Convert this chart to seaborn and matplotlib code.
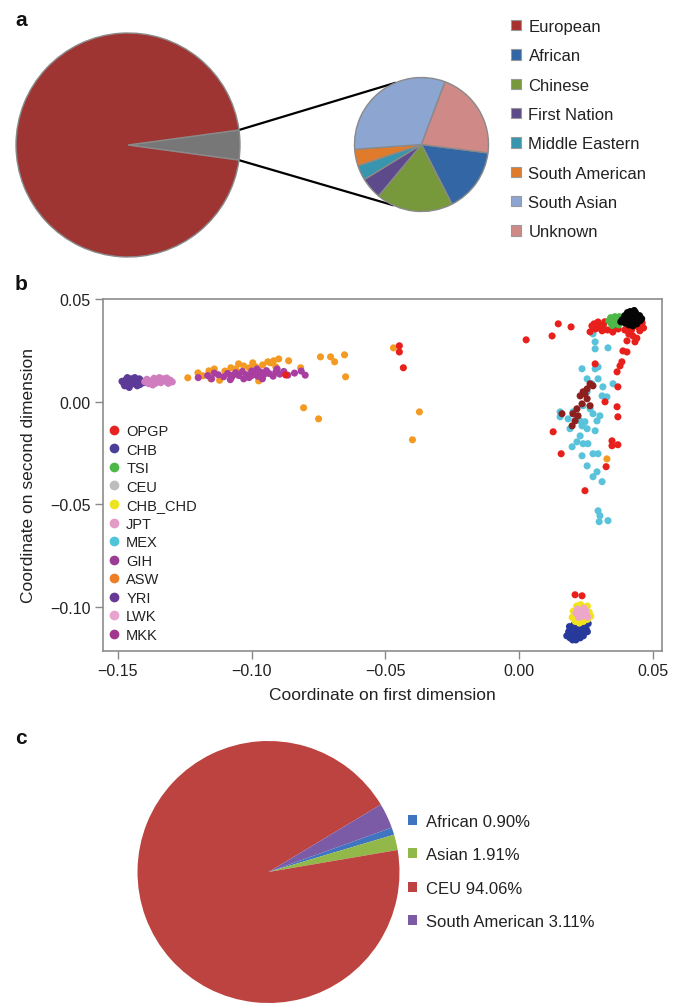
import numpy as np
import pandas as pd
import matplotlib
matplotlib.use("Agg")
import matplotlib.pyplot as plt
import seaborn as sns
from matplotlib.patches import Patch
from matplotlib.lines import Line2D

sns.set_theme(style="white")
plt.rcParams["font.family"] = ["Liberation Sans", "DejaVu Sans"]

# ---------------- Panel a data ----------------
a_main_labels = ["Other", "European"]
a_main_values = [4.3, 95.7]
a_sub_labels = ["African", "Chinese", "First Nation", "Middle Eastern",
                "South American", "South Asian", "Unknown"]
a_sub_values = [15.5, 18.6, 5.2, 3.6, 4.0, 31.9, 21.3]
a_legend_labels = ["European"] + a_sub_labels

# ---------------- Panel b data (MDS coordinates) ----------------
b_legend_order = ["OPGP", "CHB", "TSI", "CEU", "CHB_CHD", "JPT", "MEX",
                  "GIH", "ASW", "YRI", "LWK", "MKK"]

ASW_x = [-0.1239, -0.1201, -0.1160, -0.1078, -0.1030, -0.0996, -0.0959, -0.0918,
         -0.0899, -0.0862, -0.0817, -0.0743, -0.0705, -0.0690, -0.0653, -0.0649,
         -0.0806, -0.0750, -0.0974, -0.1153, -0.1183, -0.1049, -0.0929, -0.0910,
         -0.0470, -0.0373, -0.0399, 0.0328, -0.1140, -0.1100, -0.1060, -0.0985,
         -0.0940, -0.1120, -0.1010]
ASW_y = [0.0117, 0.0141, 0.0151, 0.0166, 0.0175, 0.0190, 0.0180, 0.0200,
         0.0209, 0.0200, 0.0166, 0.0219, 0.0219, 0.0195, 0.0229, 0.0122,
         -0.0029, -0.0083, 0.0102, 0.0112, 0.0127, 0.0185, 0.0190, 0.0170,
         0.0263, -0.0049, -0.0185, -0.0278, 0.0160, 0.0150, 0.0160, 0.0170,
         0.0195, 0.0105, 0.0165]

MKK_x = [-0.1200, -0.1165, -0.1150, -0.1125, -0.1105, -0.1090, -0.1075, -0.1060,
         -0.1048, -0.1035, -0.1020, -0.1010, -0.1000, -0.0990, -0.0978, -0.0968,
         -0.0955, -0.0945, -0.0935, -0.0920, -0.0910, -0.0895, -0.0880, -0.0865,
         -0.0840, -0.0815, -0.0800, -0.1140, -0.1080, -0.0960, -0.0905, -0.1030,
         -0.0980, -0.1070, -0.1000, -0.0950]
MKK_y = [0.0118, 0.0128, 0.0112, 0.0132, 0.0122, 0.0138, 0.0120, 0.0142,
         0.0128, 0.0148, 0.0132, 0.0118, 0.0150, 0.0136, 0.0125, 0.0146,
         0.0132, 0.0152, 0.0138, 0.0125, 0.0145, 0.0135, 0.0148, 0.0130,
         0.0140, 0.0150, 0.0130, 0.0140, 0.0108, 0.0112, 0.0160, 0.0112,
         0.0160, 0.0130, 0.0128, 0.0140]

YRI_x = [-0.1485, -0.1478, -0.1470, -0.1462, -0.1455, -0.1450, -0.1445, -0.1440,
         -0.1432, -0.1425, -0.1418, -0.1412, -0.1405, -0.1465, -0.1437, -0.1475,
         -0.1428, -0.1458, -0.1420]
YRI_y = [0.0100, 0.0088, 0.0108, 0.0095, 0.0082, 0.0112, 0.0100, 0.0088,
         0.0105, 0.0095, 0.0084, 0.0102, 0.0093, 0.0118, 0.0118, 0.0078,
         0.0078, 0.0070, 0.0112]

LWK_x = [-0.1400, -0.1392, -0.1385, -0.1375, -0.1365, -0.1360, -0.1350, -0.1340,
         -0.1332, -0.1322, -0.1312, -0.1305, -0.1297, -0.1370, -0.1345, -0.1318]
LWK_y = [0.0098, 0.0110, 0.0088, 0.0102, 0.0115, 0.0090, 0.0104, 0.0093,
         0.0112, 0.0100, 0.0090, 0.0106, 0.0097, 0.0082, 0.0118, 0.0116]

MEX_x = [0.0276, 0.0284, 0.0332, 0.0284, 0.0235, 0.0284, 0.0295, 0.0254,
         0.0295, 0.0272, 0.0313, 0.0254, 0.0310, 0.0328, 0.0351, 0.0239,
         0.0265, 0.0276, 0.0302, 0.0291, 0.0246, 0.0235, 0.0254, 0.0284,
         0.0228, 0.0216, 0.0239, 0.0257, 0.0190, 0.0153, 0.0201, 0.0153,
         0.0183, 0.0216, 0.0228, 0.0198, 0.0235, 0.0254, 0.0276, 0.0295,
         0.0291, 0.0276, 0.0310, 0.0295, 0.0302, 0.0299, 0.0332]
MEX_y = [0.0331, 0.0292, 0.0263, 0.0258, 0.0161, 0.0161, 0.0170, 0.0112,
         0.0112, 0.0088, 0.0073, 0.0049, 0.0029, 0.0024, 0.0088, -0.0019,
         -0.0034, -0.0058, -0.0068, -0.0093, -0.0097, -0.0117, -0.0131, -0.0141,
         -0.0166, -0.0195, -0.0204, -0.0204, -0.0131, -0.0049, -0.0049, -0.0073,
         -0.0083, -0.0073, -0.0093, -0.0219, -0.0263, -0.0312, -0.0253, -0.0253,
         -0.0341, -0.0365, -0.0389, -0.0531, -0.0555, -0.0584, -0.0579]

GIH_x = [0.0276, 0.0228, 0.0254, 0.0235, 0.0216, 0.0201, 0.0220, 0.0209,
         0.0198, 0.0254, 0.0239, 0.0265, 0.0160, 0.0265, 0.0246]
GIH_y = [0.0078, 0.0029, 0.0015, -0.0010, -0.0034, -0.0058, -0.0068, -0.0093,
         -0.0117, 0.0063, 0.0049, -0.0019, -0.0058, 0.0088, 0.0039]

OPGP_x = [-0.0448, -0.0448, -0.0433, -0.0873,
          0.0146, 0.0194, 0.0026, 0.0123, 0.0272, 0.0295, 0.0265, 0.0310,
          0.0351, 0.0403, 0.0451, 0.0425, 0.0403, 0.0433, 0.0388, 0.0403,
          0.0384, 0.0377, 0.0366, 0.0284, 0.0369, 0.0321, 0.0366, 0.0369,
          0.0127, 0.0157, 0.0347, 0.0369, 0.0347, 0.0325, 0.0246, 0.0209,
          0.0235, 0.0280, 0.0300, 0.0320, 0.0330, 0.0350, 0.0370, 0.0395,
          0.0420, 0.0445, 0.0460, 0.0465, 0.0410, 0.0440, 0.0285, 0.0315]
OPGP_y = [0.0273, 0.0243, 0.0166, 0.0131,
          0.0380, 0.0365, 0.0302, 0.0321, 0.0370, 0.0389, 0.0341, 0.0346,
          0.0355, 0.0370, 0.0346, 0.0321, 0.0297, 0.0292, 0.0248, 0.0243,
          0.0195, 0.0175, 0.0146, 0.0185, 0.0073, 0.0000, -0.0024, -0.0073,
          -0.0146, -0.0253, -0.0190, -0.0209, -0.0214, -0.0316, -0.0433, -0.0940,
          -0.0945, 0.0380, 0.0360, 0.0390, 0.0350, 0.0340, 0.0355, 0.0350,
          0.0350, 0.0365, 0.0385, 0.0360, 0.0330, 0.0310, 0.0355, 0.0375]

TSI_x = [0.0335, 0.0342, 0.0345, 0.0352, 0.0358, 0.0360, 0.0368, 0.0372,
         0.0375, 0.0380, 0.0348]
TSI_y = [0.0395, 0.0410, 0.0380, 0.0400, 0.0415, 0.0385, 0.0402, 0.0375,
         0.0415, 0.0395, 0.0372]

CEU_x = [0.0385, 0.0395, 0.0395, 0.0405, 0.0408, 0.0410, 0.0420, 0.0422,
         0.0425, 0.0435, 0.0437, 0.0440, 0.0450, 0.0452, 0.0458, 0.0415,
         0.0430, 0.0380]
CEU_y = [0.0400, 0.0420, 0.0385, 0.0435, 0.0405, 0.0375, 0.0425, 0.0395,
         0.0370, 0.0435, 0.0408, 0.0380, 0.0420, 0.0395, 0.0405, 0.0440,
         0.0445, 0.0390]

CHB_x = [0.0178, 0.0185, 0.0190, 0.0195, 0.0200, 0.0205, 0.0210, 0.0215,
         0.0220, 0.0225, 0.0230, 0.0238, 0.0245, 0.0250, 0.0258, 0.0200, 0.0228,
         0.0188, 0.0212, 0.0240, 0.0255]
CHB_y = [-0.1140, -0.1120, -0.1150, -0.1100, -0.1130, -0.1085, -0.1145, -0.1110,
         -0.1075, -0.1130, -0.1095, -0.1115, -0.1085, -0.1105, -0.1080, -0.1160, -0.1150,
         -0.1095, -0.1160, -0.1140, -0.1120]

CHB_CHD_x = [0.0198, 0.0202, 0.0210, 0.0215, 0.0225, 0.0230, 0.0240, 0.0245,
             0.0255, 0.0262, 0.0268, 0.0255]
CHB_CHD_y = [-0.1050, -0.1020, -0.1070, -0.0995, -0.1078, -0.0988, -0.1070, -0.1000,
             -0.1060, -0.1025, -0.1045, -0.0995]

JPT_x = [0.0212, 0.0218, 0.0222, 0.0230, 0.0238, 0.0242, 0.0250, 0.0256,
         0.0228, 0.0248]
JPT_y = [-0.1030, -0.1010, -0.1050, -0.1020, -0.1045, -0.1005, -0.1030, -0.1048,
         -0.1035, -0.1015]

# ---------------- Panel c data ----------------
c_labels = ["African", "Asian", "CEU", "South American"]
c_values = [0.90, 1.91, 94.06, 3.11]

# ---------------- Styles ----------------
a_main_colors = ["#777777", "#9E3533"]
a_sub_colors = ["#3366A5", "#78993B", "#5D4A8B", "#3796AE", "#E07B2C", "#8CA5D1", "#CF8987"]
a_legend_colors = ["#A8302D"] + a_sub_colors

plot_palette = {"OPGP": "#E8201C", "CHB": "#27399B", "TSI": "#4DB848", "CEU": "#050505",
                "CHB_CHD": "#F2E41C", "JPT": "#EDA7C8", "MEX": "#58C3DA", "GIH": "#8E1F1F",
                "ASW": "#F39A22", "YRI": "#5C3A97", "LWK": "#D07DC0", "MKK": "#A83FA0"}
legend_palette = {"OPGP": "#E52421", "CHB": "#4A3F98", "TSI": "#4DB848", "CEU": "#BDBDBD",
                  "CHB_CHD": "#EEE320", "JPT": "#E39AC6", "MEX": "#4DC4DA", "GIH": "#9B3D96",
                  "ASW": "#EE7E26", "YRI": "#663A96", "LWK": "#E8A3CE", "MKK": "#A3368E"}
c_colors = ["#3F74C0", "#93B84A", "#BC4340", "#7B5BA6"]

W, H = 680, 1004
fig = plt.figure(figsize=(W / 100, H / 100), dpi=100)
fig.patch.set_facecolor("white")
text_color = "#222222"

# ---------------- Panel a ----------------
a_top, a_h = 0, 280
ax_a = fig.add_axes([0, 1 - (a_top + a_h) / H, 1, a_h / H])
big_c, big_r = (128, 134), 112
small_c, small_r = (421.5, 134.5), 67
w_big, _ = ax_a.pie(a_main_values, colors=a_main_colors, startangle=7.7, counterclock=False,
                    center=big_c, radius=big_r,
                    wedgeprops=dict(edgecolor="#8a8a8a", linewidth=1.0))
w_small, _ = ax_a.pie(a_sub_values, colors=a_sub_colors, startangle=-7.2, counterclock=False,
                      center=small_c, radius=small_r,
                      wedgeprops=dict(edgecolor="#8a8a8a", linewidth=1.0))
ax_a.set_xlim(0, W)
ax_a.set_ylim(0, a_h)
ax_a.set_aspect("equal")
ax_a.axis("off")
g = w_big[0]
for th_big, th_small in [(g.theta2, 113.0), (g.theta1, 245.0)]:
    p1 = (big_c[0] + big_r * np.cos(np.radians(th_big)), big_c[1] + big_r * np.sin(np.radians(th_big)))
    p2 = (small_c[0] + small_r * np.cos(np.radians(th_small)), small_c[1] + small_r * np.sin(np.radians(th_small)))
    ax_a.plot([p1[0], p2[0]], [p1[1], p2[1]], color="black", lw=1.6, zorder=0)

fig.legend(handles=[Patch(facecolor=c, edgecolor="#999999", linewidth=0.8) for c in a_legend_colors],
           labels=a_legend_labels, loc="upper left", bbox_to_anchor=(511 / W, 1 - 20 / H),
           frameon=False, fontsize=12, handlelength=0.6, handleheight=0.6,
           handletextpad=0.45, labelspacing=0.86, borderpad=0, borderaxespad=0,
           labelcolor=text_color)
fig.text(15 / W, 1 - 20 / H, "a", fontsize=15, fontweight="bold", va="center", ha="left", color="#111")

# ---------------- Panel b ----------------
draw_order = ["ASW", "MKK", "YRI", "LWK", "MEX", "GIH", "OPGP", "TSI", "CEU", "CHB", "CHB_CHD", "JPT"]
groups = {"ASW": (ASW_x, ASW_y), "MKK": (MKK_x, MKK_y), "YRI": (YRI_x, YRI_y), "LWK": (LWK_x, LWK_y),
          "MEX": (MEX_x, MEX_y), "GIH": (GIH_x, GIH_y), "OPGP": (OPGP_x, OPGP_y), "TSI": (TSI_x, TSI_y),
          "CEU": (CEU_x, CEU_y), "CHB": (CHB_x, CHB_y), "CHB_CHD": (CHB_CHD_x, CHB_CHD_y),
          "JPT": (JPT_x, JPT_y)}
df = pd.concat([pd.DataFrame({"x": groups[k][0], "y": groups[k][1], "group": k}) for k in draw_order],
               ignore_index=True)

bl, br, bt, bb = 103, 662, 300, 652
ax_b = fig.add_axes([bl / W, 1 - bb / H, (br - bl) / W, (bb - bt) / H])
sns.scatterplot(data=df, x="x", y="y", hue="group", palette=plot_palette, s=26, linewidth=0,
                legend=False, ax=ax_b)
ax_b.set_xlim(-0.1556, 0.0534)
ax_b.set_ylim(-0.1214, 0.0501)
xt = [-0.15, -0.10, -0.05, 0.0, 0.05]
yt = [-0.10, -0.05, 0.0, 0.05]
ax_b.set_xticks(xt)
ax_b.set_xticklabels([f"{v:.2f}".replace("-", "\u2212") for v in xt])
ax_b.set_yticks(yt)
ax_b.set_yticklabels([f"{v:.2f}".replace("-", "\u2212") for v in yt])
ax_b.tick_params(bottom=True, left=True, direction="out", length=6, width=1, color="#888888",
                 labelsize=11.5, labelcolor=text_color, pad=3)
for sp in ax_b.spines.values():
    sp.set_visible(True)
    sp.set_color("#8c8c8c")
    sp.set_linewidth(1.2)
ax_b.set_xlabel("Coordinate on first dimension", fontsize=12.5, color=text_color, labelpad=6)
ax_b.set_ylabel("Coordinate on second dimension", fontsize=12.5, color=text_color, labelpad=10)

b_handles = [Line2D([0], [0], marker="o", linestyle="", markersize=7, markeredgewidth=0,
                    markerfacecolor=legend_palette[k]) for k in b_legend_order]
fig.legend(handles=b_handles, labels=b_legend_order, loc="upper left",
           bbox_to_anchor=(108 / W, 1 - 425 / H), frameon=False, fontsize=10.5,
           handlelength=0.8, handletextpad=0.45, labelspacing=0.31, borderpad=0,
           borderaxespad=0, labelcolor=text_color)
fig.text(15 / W, 1 - 285 / H, "b", fontsize=15, fontweight="bold", va="center", ha="left", color="#111")

# ---------------- Panel c ----------------
c_h = 280
ax_c = fig.add_axes([0, 0, 1, c_h / H])
ax_c.pie(c_values, colors=c_colors, startangle=19.8, counterclock=False,
         center=(268.5, 131), radius=131, wedgeprops=dict(linewidth=0))
ax_c.set_xlim(0, W)
ax_c.set_ylim(0, c_h)
ax_c.set_aspect("equal")
ax_c.axis("off")
c_leg_labels = [f"{l} {v:.2f}%" for l, v in zip(c_labels, c_values)]
fig.legend(handles=[Patch(facecolor=c, edgecolor="none") for c in c_colors], labels=c_leg_labels,
           loc="upper left", bbox_to_anchor=(408 / W, 1 - 815 / H), frameon=False, fontsize=12,
           handlelength=0.55, handleheight=0.55, handletextpad=0.5, labelspacing=1.1,
           borderpad=0, borderaxespad=0, labelcolor=text_color)
fig.text(15 / W, 1 - 738 / H, "c", fontsize=15, fontweight="bold", va="center", ha="left", color="#111")

fig.savefig("out.png", dpi=100, facecolor="white")
